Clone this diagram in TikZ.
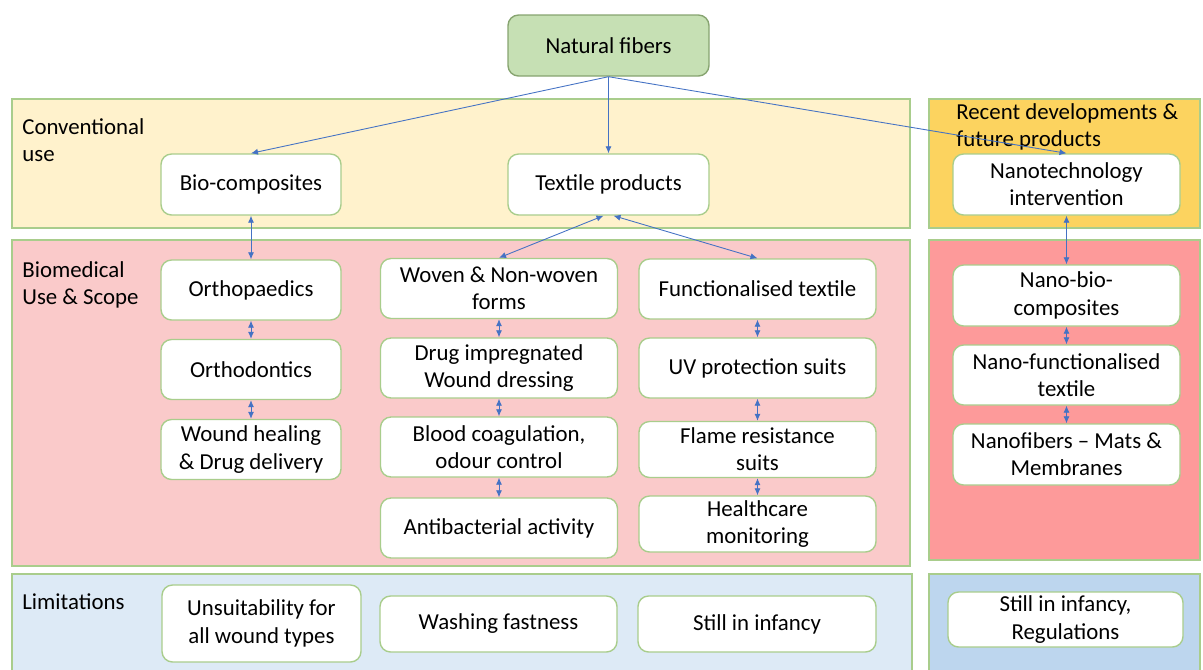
\documentclass[tikz,border=0pt]{standalone}
\usepackage{fontspec}
\setmainfont{Carlito}
\usepackage{tikz}
\usetikzlibrary{arrows.meta}
\usetikzlibrary{positioning}

\definecolor{edgegreen}{HTML}{A9CD8C}
\definecolor{topgreen}{HTML}{C6E0B4}
\definecolor{convyellow}{HTML}{FFF2CC}
\definecolor{recentgold}{HTML}{FCD35F}
\definecolor{biopink}{HTML}{FACACA}
\definecolor{nanored}{HTML}{FD9A9A}
\definecolor{limblue}{HTML}{DDEAF6}
\definecolor{regblue}{HTML}{BDD6EE}
\definecolor{linkblue}{HTML}{4472C4}

\begin{document}
\begin{tikzpicture}[
        box/.style={draw=edgegreen, fill=white, rounded corners=6pt, line width=0.8pt,
            align=center, inner sep=2pt, minimum width=3.6cm, minimum height=1.2cm,
            font=\fontsize{13}{15.5}\selectfont},
        panel/.style={draw=edgegreen, line width=0.8pt},
        lbl/.style={anchor=north west, align=left, inner sep=0pt,
            font=\fontsize{13}{15.5}\selectfont},
        link/.style={linkblue, line width=0.5pt, -{Latex[length=4pt,width=3.5pt]}},
        dlink/.style={linkblue, line width=0.5pt, {Latex[length=4pt,width=3.5pt]}-{Latex[length=4pt,width=3.5pt]}}
    ]
        \useasboundingbox (0,0) rectangle (24.06,-13.38);

        % panels
        \begin{scope}
            \clip (0,0) rectangle (24.06,-13.38);
            \draw[panel, fill=convyellow] (0.24,-1.98) rectangle (18.20,-4.56);
            \draw[panel, fill=recentgold] (18.58,-1.98) rectangle (24.00,-4.56);
            \draw[panel, fill=biopink] (0.24,-4.80) rectangle (18.20,-11.32);
            \draw[panel, fill=nanored] (18.58,-4.80) rectangle (24.00,-11.20);
            \draw[panel, fill=limblue] (0.24,-11.48) rectangle (18.24,-13.60);
            \draw[panel, fill=regblue] (18.58,-11.48) rectangle (24.00,-13.60);
        \end{scope}

        \node[lbl] (convlbl) at (0.44,-2.36) {Conventional\\use};
        \node[lbl] (recentlbl) at (19.12,-2.06) {Recent developments \&\\future products};
        \node[lbl] (biolbl) at (0.44,-5.22) {Biomedical\\Use \& Scope};
        \node[lbl] (limlbl) at (0.44,-11.86) {Limitations};

        % top row
        \node[box, fill=topgreen, draw=edgegreen!80!black, minimum width=4.02cm, minimum height=1.22cm] (nf) at (12.17,-0.91) {Natural fibers};
        \node[box, minimum height=1.22cm] (bio) at (5.02,-3.69) {Bio-composites};
        \node[box, minimum width=4.02cm, minimum height=1.22cm] (tex) at (12.17,-3.69) {Textile products};
        \node[box, minimum width=4.54cm, minimum height=1.22cm] (nano) at (21.33,-3.69) {Nanotechnology\\intervention};

        % biomedical, left column
        \node[box] (ortho) at (5.02,-5.80) {Orthopaedics};
        \node[box] (odont) at (5.02,-7.39) {Orthodontics};
        \node[box] (heal) at (5.02,-8.99) {Wound healing\\\& Drug delivery};

        % biomedical, middle column
        \node[box, minimum width=4.74cm] (woven) at (9.98,-5.77) {Woven \& Non-woven\\forms};
        \node[box, minimum width=4.74cm] (drug) at (9.98,-7.36) {Drug impregnated\\Wound dressing};
        \node[box, minimum width=4.74cm] (blood) at (9.98,-8.94) {Blood coagulation,\\odour control};
        \node[box, minimum width=4.74cm] (anti) at (9.98,-10.56) {Antibacterial activity};

        % biomedical, right column
        \node[box, minimum width=4.74cm] (func) at (15.15,-5.78) {Functionalised textile};
        \node[box, minimum width=4.74cm] (uv) at (15.15,-7.36) {UV protection suits};
        \node[box, minimum width=4.74cm, minimum height=1.12cm] (flame) at (15.15,-8.99) {Flame resistance\\suits};
        \node[box, minimum width=4.74cm, minimum height=1.12cm] (care) at (15.15,-10.48) {Healthcare\\monitoring};

        % nano column
        \node[box, minimum width=4.54cm, minimum height=1.22cm] (nbio) at (21.33,-5.91) {Nano-bio-\\composites};
        \node[box, minimum width=4.54cm] (nfunc) at (21.33,-7.50) {Nano-functionalised\\textile};
        \node[box, minimum width=4.54cm, minimum height=1.22cm] (nfib) at (21.33,-9.09) {Nanofibers -- Mats \&\\Membranes};

        % limitations
        \node[box, minimum width=3.98cm, minimum height=1.54cm] (unsuit) at (5.23,-12.47) {Unsuitability for\\all wound types};
        \node[box, minimum width=4.74cm, minimum height=1.12cm] (wash) at (9.97,-12.48) {Washing fastness};
        \node[box, minimum width=4.76cm, minimum height=1.12cm] (still) at (15.14,-12.48) {Still in infancy};
        \node[box, minimum width=4.70cm, minimum height=1.10cm] (reg) at (21.31,-12.39) {Still in infancy,\\Regulations};

        % connectors
        \draw[link] (nf.south) -- (bio.north);
        \draw[link] (nf.south) -- (tex.north);
        \draw[link] (nf.south) -- (nano.north);
        \draw[dlink] (bio.south) -- (ortho.north);
        \draw[dlink] ([xshift=-0.1cm]tex.south) -- (woven.north);
        \draw[dlink] ([xshift=0.1cm]tex.south) -- (func.north);
        \draw[dlink] (nano.south) -- (nbio.north);

        \draw[dlink] (ortho) -- (odont);
        \draw[dlink] (odont) -- (heal);
        \draw[dlink] (woven) -- (drug);
        \draw[dlink] (drug) -- (blood);
        \draw[dlink] (blood) -- (anti);
        \draw[dlink] (func) -- (uv);
        \draw[dlink] (uv) -- (flame);
        \draw[dlink] (flame) -- (care);
        \draw[dlink] (nbio) -- (nfunc);
        \draw[dlink] (nfunc) -- (nfib);
    \end{tikzpicture}
\end{document}
